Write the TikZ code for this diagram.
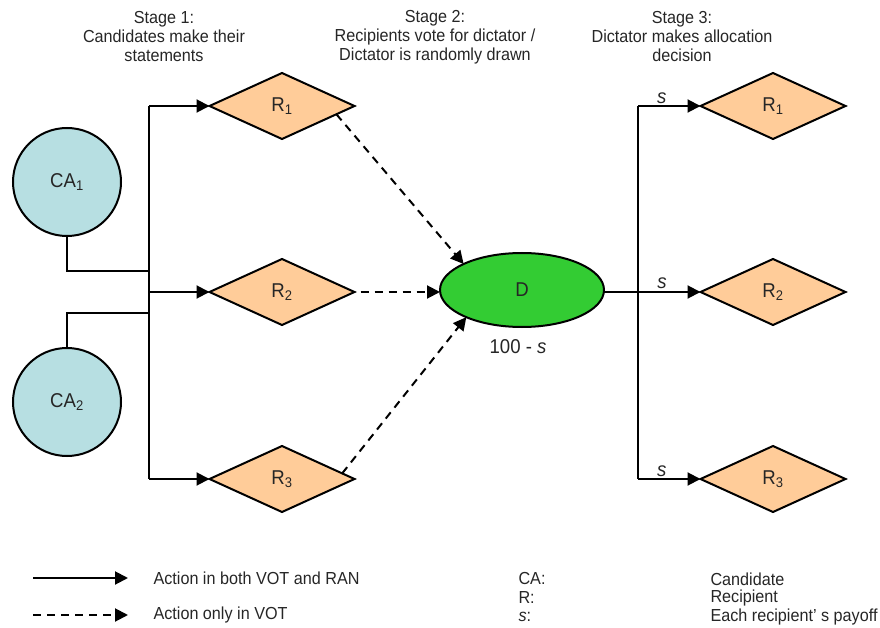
\documentclass[tikz,border=0pt]{standalone}
\usepackage{fontspec}
\setmainfont{Liberation Sans}[FakeStretch=0.93]
\usetikzlibrary{shapes.geometric,arrows.meta,calc}
\definecolor{recip}{HTML}{FFCC99}
\definecolor{cand}{HTML}{B7DFE2}
\definecolor{dict}{HTML}{33CC33}
\tikzset{
  every node/.style={font=\fontsize{17.4}{19}\selectfont, text=black!85},
  biglabel/.style={font=\fontsize{20}{22}\selectfont},
  recipbox/.style={diamond, draw, line width=2pt, fill=recip, minimum width=145pt, minimum height=66pt, inner sep=0pt, outer sep=0pt, biglabel},
  candbox/.style={circle, draw, line width=2pt, fill=cand, minimum size=108pt, inner sep=0pt, outer sep=0pt, biglabel},
  dictbox/.style={ellipse, draw, line width=2pt, fill=dict, minimum width=164pt, minimum height=74pt, inner sep=0pt, outer sep=0pt, biglabel},
  flow/.style={line width=2pt, -{Triangle[length=13pt,width=13pt]}},
  vote/.style={flow, dash pattern=on 8pt off 6pt},
  wire/.style={line width=2pt},
  stagetext/.style={align=center},
}
\begin{document}
\begin{tikzpicture}[x=1pt,y=-1pt]
\useasboundingbox (0,0) rectangle (880,628);

% stage headings
\node[stagetext] (st1) at (164,37) {Stage 1:\\Candidates make their\\statements};
\node[stagetext] (st2) at (435,37) {Stage 2:\\Recipients vote for dictator /\\Dictator is randomly drawn};
\node[stagetext] (st3) at (682,37) {Stage 3:\\Dictator makes allocation\\decision};

% candidates
\node[candbox] (CA1) at (67,182) {CA\textsubscript{1}};
\node[candbox] (CA2) at (67,402) {CA\textsubscript{2}};

% recipients (stage 1 side)
\node[recipbox] (R1) at (282,106) {R\textsubscript{1}};
\node[recipbox] (R2) at (282,292) {R\textsubscript{2}};
\node[recipbox] (R3) at (282,479) {R\textsubscript{3}};

% dictator
\node[dictbox] (D) at (522,290) {D};
\node[biglabel] (pay) at (518,347) {100 - \textit{s}};

% recipients (stage 3 side)
\node[recipbox] (Q1) at (773,106) {R\textsubscript{1}};
\node[recipbox] (Q2) at (773,292) {R\textsubscript{2}};
\node[recipbox] (Q3) at (773,479) {R\textsubscript{3}};

% left junctions
\coordinate (jl) at (149,0);
\coordinate (c1) at (67,271);
\coordinate (c2) at (67,313);
\draw[wire] (CA1.south) -- (c1) -- (jl |- c1);
\draw[wire] (CA2.north) -- (c2) -- (jl |- c2);
\draw[wire] (jl |- R1.west) -- (jl |- R3.west);
\draw[flow] (jl |- R1.west) -- (R1.west);
\draw[flow] (jl |- R2.west) -- (R2.west);
\draw[flow] (jl |- R3.west) -- (R3.west);

% votes towards the dictator
\draw[vote] ($(R1.east)!0.25!(R1.south)$) -- (D.156);
\draw[vote] ($(R2.east)+(6,0)$) -- (D.west |- R2.east);
\draw[vote] ($(R3.east)!0.17!(R3.north)$) -- (D.206);

% allocation
\coordinate (jr) at (638,0);
\draw[wire] (jr |- Q1.west) -- (jr |- Q3.west);
\draw[flow] (D.east |- Q2.west) -- (Q2.west);
\draw[flow] (jr |- Q1.west) -- node[above, pos=0.38, inner sep=1pt, biglabel] (s1) {\textit{s}} (Q1.west);
\draw[flow] (jr |- Q3.west) -- node[above, pos=0.38, inner sep=1pt, biglabel] (s3) {\textit{s}} (Q3.west);
\node[biglabel] (s2) at (662,283) {\textit{s}};

% legend
\coordinate (la) at (33,578);
\coordinate (lb) at (128,578);
\coordinate (lc) at (33,615);
\coordinate (ld) at (128,615);
\draw[flow] (la) -- (lb);
\draw[vote] (lc) -- (ld);
\node[anchor=west] (l1) at (150,578) {Action in both VOT and RAN};
\node[anchor=west] (l2) at (150,615) {Action only in VOT};

\node[anchor=west] (k1) at (515,579) {CA:};
\node[anchor=west] (k2) at (515,598) {R:};
\node[anchor=west] (k3) at (515,617) {\textit{s}:};
\node[anchor=west] (v1) at (707,579) {Candidate};
\node[anchor=west] (v2) at (707,598) {Recipient};
\node[anchor=west] (v3) at (707,617) {Each recipient' s payoff};
\end{tikzpicture}
\end{document}
